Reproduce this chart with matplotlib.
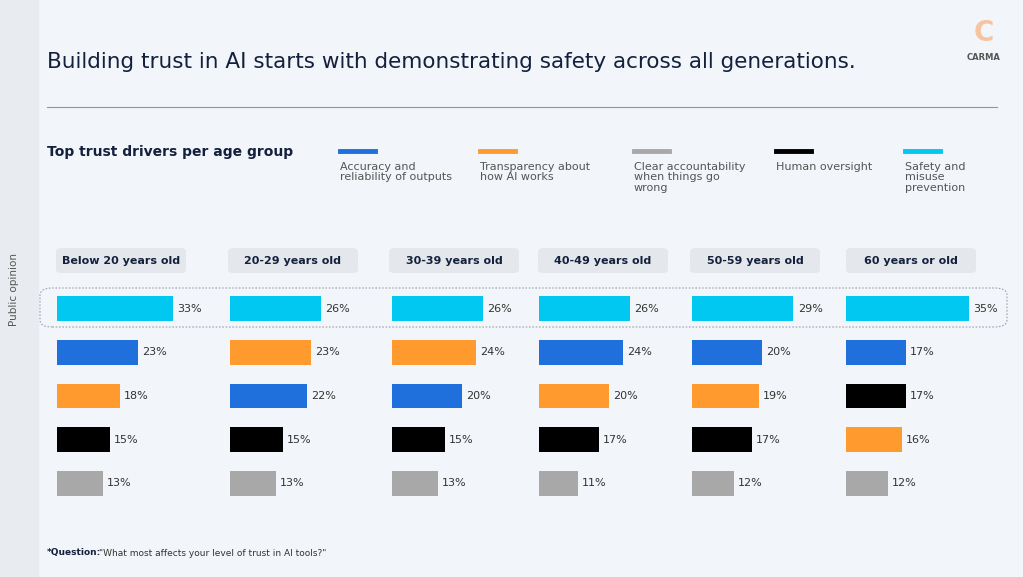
import matplotlib
matplotlib.use("Agg")
import matplotlib.pyplot as plt
from matplotlib.patches import FancyBboxPatch, Rectangle
from matplotlib.lines import Line2D

W, H = 1023, 577

drivers = ["Accuracy and\nreliability of outputs", "Transparency about\nhow AI works",
           "Clear accountability\nwhen things go\nwrong", "Human oversight",
           "Safety and\nmisuse\nprevention"]
colors = ["#1f6fdc", "#ff9a2e", "#a8a8a8", "#000000", "#00c8f0"]

age_groups = ["Below 20 years old", "20-29 years old", "30-39 years old",
              "40-49 years old", "50-59 years old", "60 years or old"]
# per age group: driver index in rank order and value (%)
ranked_drivers = [
    [4, 0, 1, 3, 2],
    [4, 1, 0, 3, 2],
    [4, 1, 0, 3, 2],
    [4, 0, 1, 3, 2],
    [4, 0, 1, 3, 2],
    [4, 0, 3, 1, 2],
]
ranked_values = [
    [33, 23, 18, 15, 13],
    [26, 23, 22, 15, 13],
    [26, 24, 20, 15, 13],
    [26, 24, 20, 17, 11],
    [29, 20, 19, 17, 12],
    [35, 17, 17, 16, 12],
]

col_left = [57, 230, 392, 539, 692, 846]
head_left = [56, 228, 389, 538, 690, 846]

fig = plt.figure(figsize=(W / 100, H / 100), dpi=100)
fig.patch.set_facecolor("#f2f5f9")


def fx(x):
    return x / W


def fy(y):
    return 1 - y / H


# left strip
fig.patches.append(Rectangle((0, 0), fx(38), 1, transform=fig.transFigure,
                             color="#e8ebef", zorder=0))
fig.text(fx(14), fy(290), "Public opinion", rotation=90, ha="center", va="center",
         fontsize=7.5, color="#555555")

fig.text(fx(47), fy(62), "Building trust in AI starts with demonstrating safety across all generations.",
         fontsize=15.5, color="#14213d", va="center", weight="medium")
fig.add_artist(Line2D([fx(47), fx(997)], [fy(107), fy(107)], color="#8a97a8", lw=0.8))
fig.text(fx(47), fy(152), "Top trust drivers per age group", fontsize=10, weight="bold",
         color="#14213d", va="center")

# logo
fig.text(fx(984), fy(33), "C", fontsize=20, weight="bold", color="#f7c3a0",
         ha="center", va="center")
fig.text(fx(984), fy(58), "CARMA", fontsize=6, weight="bold", color="#555555",
         ha="center", va="center")

# legend
leg_x = [340, 480, 634, 776, 905]
for lx, lab, c in zip(leg_x, drivers, colors):
    fig.add_artist(Line2D([fx(lx), fx(lx + 35)], [fy(151), fy(151)], color=c, lw=3.5))
    fig.text(fx(lx), fy(162), lab, fontsize=8, color="#555555", va="top",
             linespacing=1.05)

# dashed highlight box
fig.patches.append(FancyBboxPatch((fx(40), fy(327)), fx(967), fy(288) - fy(327),
                                  boxstyle="round,pad=0,rounding_size=0.012",
                                  transform=fig.transFigure, fill=False,
                                  ec="#9aa3ad", ls=(0, (1.5, 1.5)), lw=0.8))

for i, age in enumerate(age_groups):
    hx = head_left[i]
    fig.patches.append(FancyBboxPatch((fx(hx), fy(273)), fx(130), fy(248) - fy(273),
                                      boxstyle="round,pad=0,rounding_size=0.006",
                                      transform=fig.transFigure, fc="#e4e8ec",
                                      ec="none"))
    fig.text(fx(hx + 65), fy(261), age, fontsize=8, weight="bold", color="#14213d",
             ha="center", va="center")

    ax = fig.add_axes([fx(col_left[i]), fy(505), fx(150), fy(287) - fy(505)])
    vals = ranked_values[i]
    cols = [colors[d] for d in ranked_drivers[i]]
    ax.barh(range(5), vals, height=0.57, color=cols)
    for r, v in enumerate(vals):
        ax.text(v + 1.2, r, f"{v}%", va="center", fontsize=8, color="#333333")
    ax.set_xlim(0, 150 / 3.5)
    ax.set_ylim(4.5, -0.5)
    ax.axis("off")

fig.text(fx(47), fy(553), "*Question:", fontsize=6.5, weight="bold", color="#14213d",
         va="center")
fig.text(fx(99), fy(553), "\"What most affects your level of trust in AI tools?\"",
         fontsize=6.5, color="#333333", va="center")

fig.savefig("out.png", dpi=100, facecolor=fig.get_facecolor())
